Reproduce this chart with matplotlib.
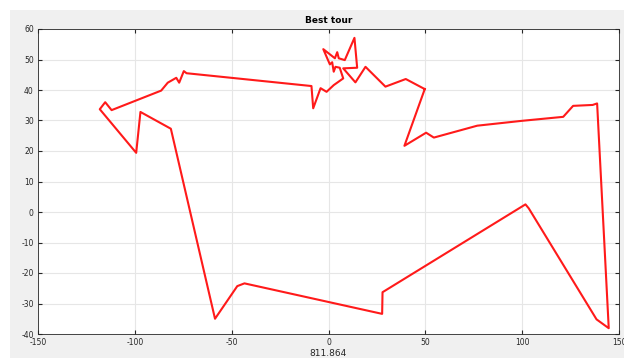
import matplotlib
matplotlib.use('Agg')
import matplotlib.pyplot as plt
from matplotlib.patches import Rectangle

plt.rcParams['axes.unicode_minus'] = False

# tour vertices, in visiting order (closed loop)
tour_x = [49.7, 39.9, 29.4, 19.1, 13.9, 7.6, 14.8, 13.4, 8.4, 5.3, 4.5, 3.3, -2.7,
          0.7, 1.9, 2.7, 3.6, 5.8, 7.6, 2.7, -1.0, -4.1, -7.9, -8.8,
          -73.3, -74.7, -77.1, -78.6, -83.0, -86.4, -112.0, -115.3, -118.1,
          -99.3, -97.1, -81.4, -58.6, -47.1, -43.4, 27.7, 27.9, 101.7, 103.4,
          138.4, 144.7, 138.7, 136.4, 126.3, 121.2, 100.0, 76.8, 54.4, 50.4, 39.2, 49.7]
tour_y = [40.3, 43.6, 41.1, 47.6, 42.5, 47.1, 47.3, 57.1, 49.8, 50.4, 52.4, 50.4, 53.4,
          48.4, 49.1, 46.0, 47.6, 47.3, 43.8, 41.6, 39.4, 40.6, 34.0, 41.3,
          45.5, 46.2, 42.4, 44.0, 42.4, 39.8, 33.4, 36.0, 33.7,
          19.4, 32.8, 27.3, -35.0, -24.3, -23.4, -33.4, -26.3, 2.5, 1.2,
          -35.2, -38.1, 35.6, 35.1, 34.8, 31.2, 29.9, 28.3, 24.4, 26.0, 21.7, 40.3]
tour_len = '811.864'

xticks = [-150, -100, -50, 0, 50, 100, 150]
yticks = [-40, -30, -20, -10, 0, 10, 20, 30, 40, 50, 60]

fig = plt.figure(figsize=(6.24, 3.58), dpi=100)
# matlab-style gray figure panel
fig.patches.append(Rectangle((10/624, 0), 1, 1 - 10/358, transform=fig.transFigure,
                             facecolor='#f0f0f0', edgecolor='none', zorder=-1))
ax = fig.add_axes([38/624, 1 - 334/358, 581/624, 305/358])
ax.plot(tour_x, tour_y, color='#ff1a1a', linewidth=1.5)

ax.set_xlim(-150, 150)
ax.set_ylim(-40, 60)
ax.set_xticks(xticks)
ax.set_yticks(yticks)
ax.grid(True, color='#e6e6e6', linewidth=0.8)
ax.set_axisbelow(True)
ax.tick_params(direction='in', length=3, labelsize=5.5, colors='#262626',
               top=True, right=True, pad=3)
for s in ax.spines.values():
    s.set_color('#262626')
    s.set_linewidth(0.6)
ax.set_title('Best tour', fontsize=6.5, fontweight='bold', pad=4)
ax.set_xlabel(tour_len, fontsize=6.5, labelpad=1, color='#262626')

fig.savefig('out.png', dpi=100)
